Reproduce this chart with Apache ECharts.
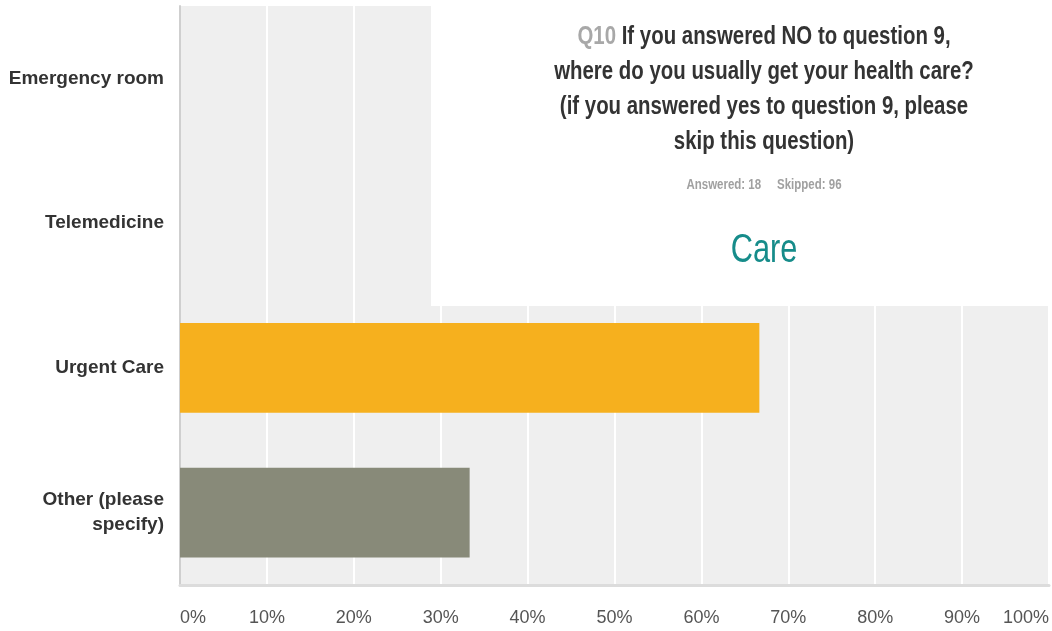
<!DOCTYPE html>
<html>
<head>
<meta charset="utf-8">
<script src="https://cdn.jsdelivr.net/npm/echarts@6/dist/echarts.min.js"></script>
<style>
html,body{margin:0;padding:0;background:#fff;}
#chart{width:1052px;height:631px;}
</style>
</head>
<body>
<div id="chart"></div>
<script>
var categories = ['Emergency room', 'Telemedicine', 'Urgent Care', 'Other (please\nspecify)'];
var values = [0, 0, 66.67, 33.33];
var barColors = ['#f6b01e', '#f6b01e', '#f6b01e', '#888a79'];
var tickLabels = ['0%', '10%', '20%', '30%', '40%', '50%', '60%', '70%', '80%', '90%', '100%'];
var titleQ = 'Q10';
var titleLines = ['If you answered NO to question 9,', 'where do you usually get your health care?', '(if you answered yes to question 9, please', 'skip this question)'];
var statsText = 'Answered: 18     Skipped: 96';
var subtitleWord = 'Care';

var sans = '"Liberation Sans", Arial, Helvetica, sans-serif';

var chart = echarts.init(document.getElementById('chart'), null, {renderer: 'canvas'});
chart.setOption({
  animation: false,
  backgroundColor: '#ffffff',
  grid: {
    left: 180, right: 3, top: 6, bottom: 46,
    show: true, backgroundColor: '#efefef', borderWidth: 0
  },
  xAxis: {
    type: 'value', min: 0, max: 100, interval: 10,
    axisLine: {show: true, lineStyle: {color: '#dcdcdc', width: 3}},
    axisTick: {show: false},
    splitLine: {show: true, lineStyle: {color: '#ffffff', width: 2}},
    axisLabel: {
      margin: 24,
      color: '#555555', fontSize: 18, fontFamily: sans,
      alignMinLabel: 'left', alignMaxLabel: 'right',
      formatter: function (v) { return tickLabels[Math.round(v / 10)]; }
    }
  },
  yAxis: {
    type: 'category', data: categories, inverse: true,
    axisLine: {show: true, lineStyle: {color: '#cfcfcf', width: 2}},
    axisTick: {show: false},
    axisLabel: {
      margin: 16, color: '#333333', fontSize: 19, fontWeight: 'bold',
      fontFamily: sans, lineHeight: 25, align: 'right'
    }
  },
  series: [{
    type: 'bar',
    data: values.map(function (v, i) { return {value: v, itemStyle: {color: barColors[i]}}; }),
    barCategoryGap: '38%',
    z: 2
  }],
  graphic: [
    {type: 'rect', x: 431, y: 0, z: 100, shape: {x: 0, y: 0, width: 621, height: 306}, style: {fill: '#ffffff'}},
    {
      type: 'text', z: 101, x: 764, y: 19, scaleX: 0.785,
      style: {
        x: 0, y: 0,
        text: '{q|' + titleQ + '}{t| ' + titleLines[0] + '}\n{t|' + titleLines[1] + '}\n{t|' + titleLines[2] + '}\n{t|' + titleLines[3] + '}',
        align: 'center', verticalAlign: 'top',
        rich: {
          q: {fontSize: 26, fontFamily: sans, fontWeight: 'bold', fill: '#a8a8a8', lineHeight: 35, align: 'center'},
          t: {fontSize: 26, fontFamily: sans, fontWeight: 'bold', fill: '#333333', lineHeight: 35, align: 'center'}
        }
      }
    },
    {type: 'text', z: 101, x: 764, y: 185, scaleX: 0.82,
      style: {x: 0, y: 0, text: statsText, align: 'center', verticalAlign: 'middle', fontSize: 14, fontWeight: 'bold', fontFamily: sans, fill: '#a0a0a0'}},
    {type: 'text', z: 101, x: 764, y: 251, scaleX: 0.75,
      style: {x: 0, y: 0, text: subtitleWord, align: 'center', verticalAlign: 'middle', fontSize: 41, fontFamily: sans, fill: '#168c8a'}}
  ]
});
</script>
</body>
</html>
